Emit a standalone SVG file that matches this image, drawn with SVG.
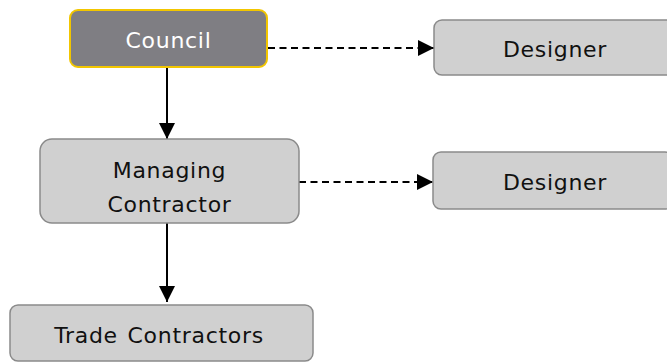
<svg xmlns="http://www.w3.org/2000/svg" width="667" height="363" viewBox="0 0 667 363">
<style>
.box{fill:#d0d0d0;stroke:#8a8a8a;stroke-width:1.5}
.lead{fill:#7f7e83;stroke:#f2c600;stroke-width:2}
text{font-family:"DejaVu Sans",sans-serif;font-size:22px;letter-spacing:0.7px;word-spacing:2px;text-anchor:middle;fill:#111}
.w{fill:#fff}
.solid{stroke:#000;stroke-width:2;fill:none}
.dash{stroke:#000;stroke-width:2;fill:none;stroke-dasharray:7 4.5}
</style>
<defs>
<marker id="ah" viewBox="0 0 10 10" refX="10" refY="5" markerWidth="16" markerHeight="16" markerUnits="userSpaceOnUse" orient="auto">
<path d="M0,0 L10,5 L0,10 z" fill="#000"/>
</marker>
</defs>
<g id="connectors">
<line class="solid" x1="167" y1="67" x2="167" y2="139" marker-end="url(#ah)"/>
<line class="solid" x1="167" y1="223" x2="167" y2="302" marker-end="url(#ah)"/>
<line class="dash" x1="268" y1="48" x2="434" y2="48" marker-end="url(#ah)"/>
<line class="dash" x1="299" y1="182" x2="433" y2="182" marker-end="url(#ah)"/>
</g>
<g id="council">
<rect class="lead" x="70" y="10" width="197" height="57" rx="8"/>
<text class="w" x="168.5" y="48">Council</text>
</g>
<g id="designer1">
<rect class="box" x="434" y="20" width="240" height="55" rx="8"/>
<text x="555" y="57">Designer</text>
</g>
<g id="managing">
<rect class="box" x="40" y="139" width="259" height="84" rx="12"/>
<text x="169.5" y="178">Managing</text>
<text x="169.5" y="212">Contractor</text>
</g>
<g id="designer2">
<rect class="box" x="433" y="152" width="240" height="57" rx="8"/>
<text x="555" y="190">Designer</text>
</g>
<g id="trade">
<rect class="box" x="10" y="305" width="303" height="56" rx="8"/>
<text x="159" y="343">Trade Contractors</text>
</g>
</svg>
